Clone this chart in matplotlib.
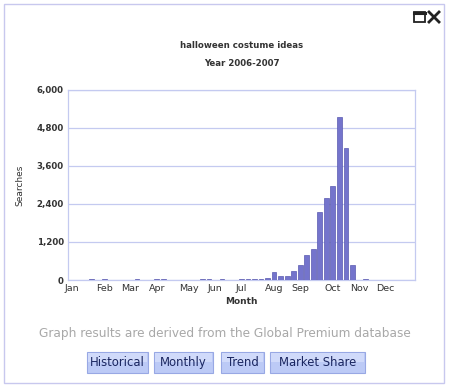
import matplotlib.pyplot as plt
from matplotlib.patches import Rectangle
from matplotlib.lines import Line2D

# weekly search counts, 53 weeks
weeks = list(range(53))
searches = [0, 0, 0, 40, 0, 40, 0, 0, 0, 0,
            45, 0, 0, 40, 40, 0, 0, 0, 0, 0,
            35, 35, 0, 35, 0, 0, 45, 35, 35, 45,
            60, 242, 116, 137, 284, 474, 790, 968, 2137, 2590,
            2980, 5137, 4168, 474, 0, 40, 0, 0, 0, 0,
            0, 0, 0]
month_labels = ["Jan", "Feb", "Mar", "Apr", "May", "Jun",
                "Jul", "Aug", "Sep", "Oct", "Nov", "Dec"]
month_ticks = [0, 5, 9, 13, 18, 22, 26, 31, 35, 40, 44, 48]
y_ticks = [0, 1200, 2400, 3600, 4800, 6000]
buttons = ["Historical", "Monthly", "Trend", "Market Share"]

W, H = 450, 388
fig = plt.figure(figsize=(4.5, 3.88), dpi=100)

def fx(px):
    return px / W

def fy(py):
    return 1 - py / H

# outer panel border
fig.patches.append(Rectangle((fx(4), fy(383)), fx(440), 379 / H,
                             transform=fig.transFigure, fill=False,
                             edgecolor="#c8c8ee", lw=1))

# window icons (maximise box and close cross)
icon = "#222222"
fig.patches.append(Rectangle((fx(414), fy(22)), fx(11), 10 / H,
                             transform=fig.transFigure, fill=False,
                             edgecolor=icon, lw=1.3))
fig.lines.append(Line2D([fx(414), fx(425)], [fy(13), fy(13)],
                        transform=fig.transFigure, color=icon, lw=2.2))
fig.lines.append(Line2D([fx(429), fx(439)], [fy(12), fy(22)],
                        transform=fig.transFigure, color=icon, lw=2))
fig.lines.append(Line2D([fx(429), fx(439)], [fy(22), fy(12)],
                        transform=fig.transFigure, color=icon, lw=2))

# titles centred over the plot area
fig.text(fx(241.5), fy(46), "halloween costume ideas", fontsize=6.2,
         fontweight="bold", ha="center", va="center", color="#333333")
fig.text(fx(241.5), fy(63), "Year 2006-2007", fontsize=6.2,
         fontweight="bold", ha="center", va="center", color="#333333")

grid_col = "#c4caf0"
ax = fig.add_axes([fx(68), fy(280), fx(347), 190 / H])
ax.bar(weeks, searches, width=0.72, color="#7474cc", edgecolor="#5a5ab0",
       linewidth=0.5, zorder=3)
ax.set_xlim(-0.6, 52.6)
ax.set_ylim(0, 6000)
ax.set_yticks(y_ticks)
ax.set_yticklabels([f"{v:,}" for v in y_ticks], fontsize=6.2,
                   fontweight="bold", color="#333333")
ax.set_xticks(month_ticks)
ax.set_xticklabels(month_labels, fontsize=6.8, color="#333333")
ax.tick_params(length=0, pad=3)
ax.yaxis.grid(True, color=grid_col, lw=0.9, zorder=0)
for s in ax.spines.values():
    s.set_color(grid_col)
    s.set_linewidth(0.9)
ax.set_xlabel("Month", fontsize=6.5, fontweight="bold", color="#333333",
              labelpad=3)
ax.set_ylabel("Searches", fontsize=6.5, color="#333333", labelpad=9)

fig.text(0.5, fy(334), "Graph results are derived from the Global Premium database",
         fontsize=8.7, ha="center", va="center", color="#a8a8a8")

# buttons
btn_x = [(87, 148), (154, 213), (221, 264), (270, 365)]
for label, (x0, x1) in zip(buttons, btn_x):
    fig.patches.append(Rectangle((fx(x0), fy(373)), fx(x1 - x0), 21 / H,
                                 transform=fig.transFigure,
                                 facecolor="#bccaf6", edgecolor="#98a8e4",
                                 lw=0.8))
    fig.patches.append(Rectangle((fx(x0 + 1), fy(362)), fx(x1 - x0 - 2), 9 / H,
                                 transform=fig.transFigure,
                                 facecolor="#d0dafa", edgecolor="none"))
    fig.text(fx((x0 + x1) / 2), fy(362.5), label, fontsize=8.4,
             ha="center", va="center", color="#1a2660")

fig.savefig("out.png", dpi=100)
